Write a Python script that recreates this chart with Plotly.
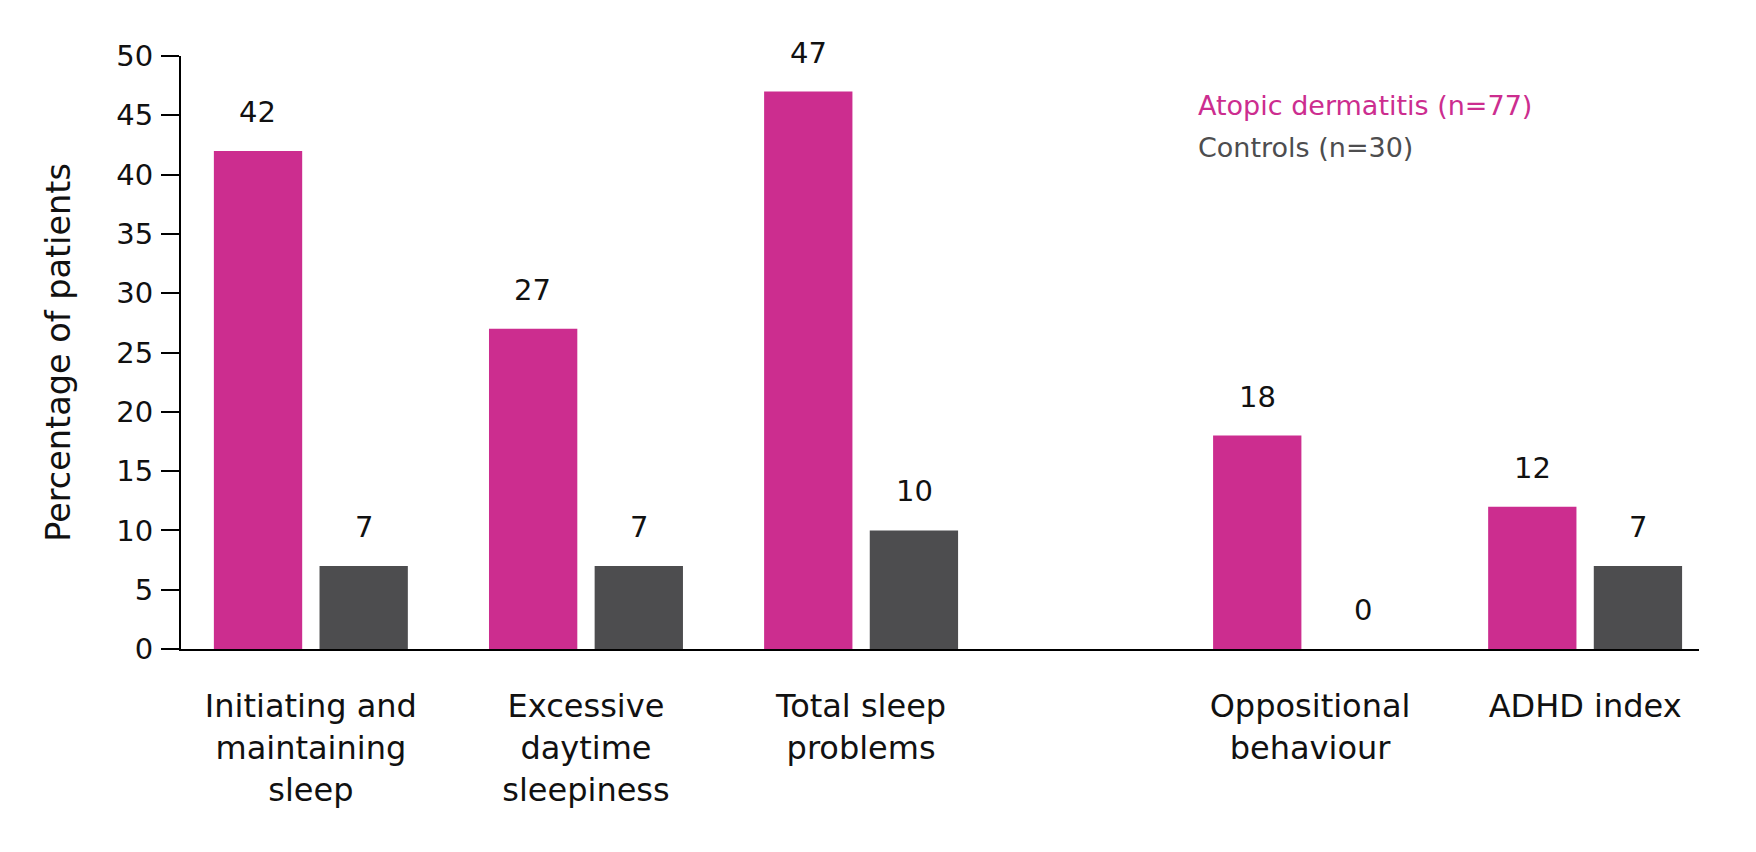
import plotly.graph_objects as go
from plotly.subplots import make_subplots

# -----------------------------------------------------------------------------
# Data
# -----------------------------------------------------------------------------

categories = [
    "Initiating and<br>maintaining<br>sleep",
    "Excessive<br>daytime<br>sleepiness",
    "Total sleep<br>problems",
    "Oppositional<br>behaviour",
    "ADHD index",
]
n_sleep = 3  # first three are sleep measures, rest are behaviour
atopic_values = [42, 27, 47, 18, 12]
control_values = [7, 7, 10, 0, 7]
series_names = ["Atopic dermatitis (n=77)", "Controls (n=30)"]
y_ticks = [0, 5, 10, 15, 20, 25, 30, 35, 40, 45, 50]

PINK = "#CC2D8F"
GREY = "#4D4D4F"
FONT = "DejaVu Sans"
TEXT = "#111111"

# -----------------------------------------------------------------------------
# Figure
# -----------------------------------------------------------------------------

fig = make_subplots(
    rows=1, cols=2, shared_yaxes=True, horizontal_spacing=0,
    column_widths=[904, 613],
)

groups = [(0, n_sleep, 1), (n_sleep, len(categories), 2)]
for start, end, col in groups:
    cats = categories[start:end]
    for vals, color in [(atopic_values, PINK), (control_values, GREY)]:
        fig.add_trace(
            go.Bar(x=cats, y=vals[start:end], marker=dict(color=color, line_width=0),
                   showlegend=False, hoverinfo="x+y"),
            row=1, col=col,
        )
    # value labels above the bars
    xref = "x" if col == 1 else "x2"
    for vals, shift in [(atopic_values, -53), (control_values, 53)]:
        for c, v in zip(cats, vals[start:end]):
            fig.add_annotation(
                x=c, y=v, xref=xref, yref="y", text=str(v), showarrow=False,
                xshift=shift, yshift=39, yanchor="middle",
                font=dict(family=FONT, size=29, color=TEXT),
            )

# legend as coloured text
for name, color, ypos in [(series_names[0], PINK, 0.917), (series_names[1], GREY, 0.846)]:
    fig.add_annotation(
        x=0.6685, y=ypos, xref="paper", yref="paper", text=name, showarrow=False,
        xanchor="left", yanchor="middle", font=dict(family=FONT, size=27, color=color),
    )

# page body adds an 8px margin, so the figure is 16px smaller than the window
fig.update_layout(
    width=1740, height=836,
    plot_bgcolor="white", paper_bgcolor="white",
    barmode="group", bargap=0.232, bargroupgap=0.164,
    margin=dict(l=173, r=49, t=48, b=195),
    font=dict(family=FONT, size=29, color=TEXT),
)

fig.update_xaxes(
    showline=True, linecolor="black", linewidth=2,
    ticks="", showgrid=False, zeroline=False, automargin=False,
    ticklabelstandoff=28, tickfont=dict(size=32),
)
fig.update_xaxes(range=[-0.472, 2.816], row=1, col=1)
fig.update_xaxes(range=[-0.816, 1.414], row=1, col=2)

fig.update_yaxes(
    range=[0, 50], tickvals=y_ticks, showgrid=False, zeroline=False,
    showline=True, linecolor="black", linewidth=2, automargin=False,
    ticks="outside", ticklen=18, tickwidth=2, tickcolor="black",
    ticklabelstandoff=2, tickfont=dict(size=29), row=1, col=1,
)
fig.update_yaxes(
    title=dict(text="Percentage of patients", font=dict(size=33.5), standoff=36),
    row=1, col=1,
)
fig.update_yaxes(showline=False, ticks="", showticklabels=False, automargin=False, row=1, col=2)

fig.write_html("out.html")
